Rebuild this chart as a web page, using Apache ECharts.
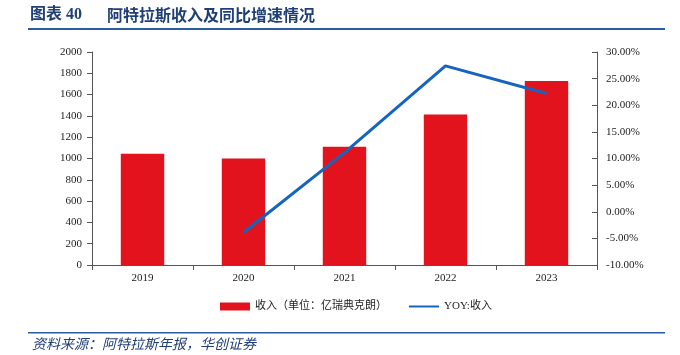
<!DOCTYPE html>
<html><head><meta charset="utf-8">
<script src="https://cdn.jsdelivr.net/npm/echarts@6/dist/echarts.min.js"></script>
<style>html,body{margin:0;padding:0;background:#fff;}#c{width:680px;height:355px;}</style>
</head><body><div id="c"></div>
<script>
const categories = ['2019','2020','2021','2022','2023'];
const revenue = [1045, 1000, 1110, 1413, 1727];
const yoy = [null, -3.9, 11.1, 27.4, 22.2];

const serif = '"Liberation Serif","Times New Roman",serif';
const cjk = '"Liberation Serif","Noto Sans CJK SC",serif';
const chart = echarts.init(document.getElementById('c'), null, {renderer:'canvas'});
chart.setOption({
  animation:false,
  graphic:[
    {type:'text', left:30, top:7, style:{text:'图表 40', font:'bold 16px "Liberation Serif","Noto Sans CJK SC",serif', fill:'#1F3F77'}},
    {type:'text', left:107, top:7, style:{text:'阿特拉斯收入及同比增速情况', font:'bold 16px "Noto Sans CJK SC",serif', fill:'#1F3F77'}},
    {type:'rect', shape:{x:28,y:28,width:637,height:2}, style:{fill:'#2B5C9E'}},
    {type:'rect', shape:{x:28,y:332,width:637,height:1.5}, style:{fill:'#2B5C9E'}},
    {type:'text', left:32, top:337, style:{text:'资料来源：阿特拉斯年报，华创证券', font:'italic 14px "Noto Sans CJK SC",sans-serif', fill:'#1F3F77'}}
  ],
  legend:{
    top:296, left:215, itemGap:21, itemWidth:30, itemHeight:8,
    textStyle:{fontFamily:cjk, fontSize:11, color:'#222'},
    data:[{name:'收入（单位：亿瑞典克朗）', icon:'rect'},{name:'YOY:收入', itemStyle:{opacity:0}}]
  },
  grid:{left:92, right:83, top:52, bottom:90},
  xAxis:{
    type:'category', data:categories,
    axisLine:{lineStyle:{color:'#555'}},
    axisTick:{show:true, alignWithLabel:false, lineStyle:{color:'#555'}},
    axisLabel:{fontFamily:serif, fontSize:11, color:'#222', margin:8}
  },
  yAxis:[
    {type:'value', min:0, max:2000, interval:200,
     axisLine:{show:true, lineStyle:{color:'#555'}},
     axisTick:{show:true, lineStyle:{color:'#555'}},
     splitLine:{show:false},
     axisLabel:{fontFamily:serif, fontSize:11, color:'#222', margin:10, formatter:v=>String(v)}},
    {type:'value', min:-10, max:30, interval:5,
     axisLine:{show:true, lineStyle:{color:'#555'}},
     axisTick:{show:true, inside:true, lineStyle:{color:'#555'}},
     splitLine:{show:false},
     axisLabel:{fontFamily:serif, fontSize:11, color:'#222', margin:9, formatter:v=>v.toFixed(2)+'%'}}
  ],
  series:[
    {name:'收入（单位：亿瑞典克朗）', type:'bar', data:revenue, barWidth:'43%', itemStyle:{color:'#E3131E'}},
    {name:'YOY:收入', type:'line', yAxisIndex:1, data:yoy, symbol:'none', lineStyle:{color:'#1565C0', width:3}, itemStyle:{color:'#1565C0'}}
  ]
});
</script></body></html>
